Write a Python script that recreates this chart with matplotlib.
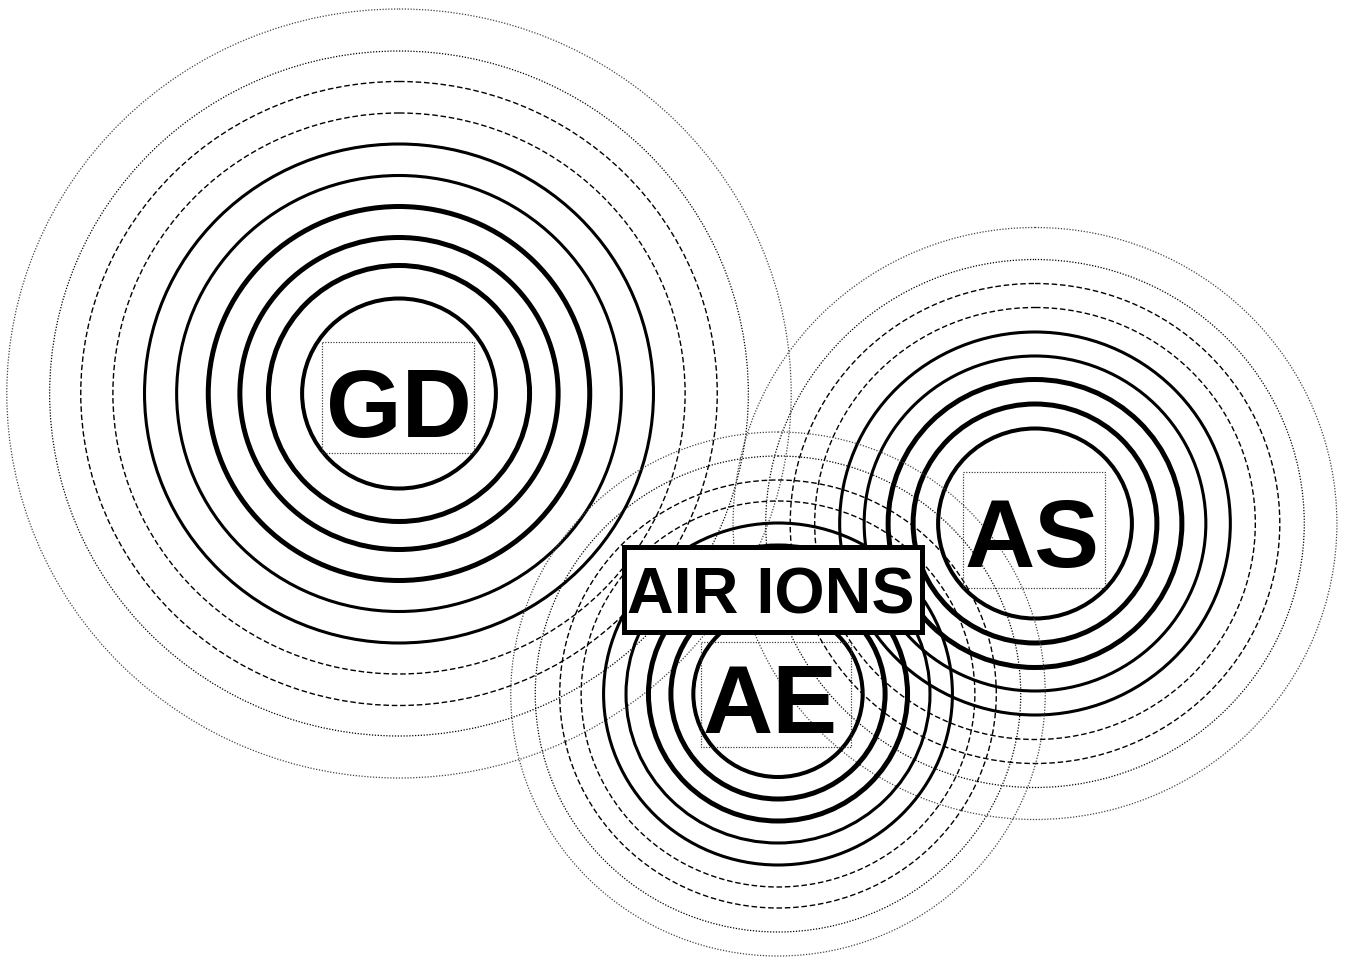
import matplotlib
matplotlib.use("Agg")
import matplotlib.pyplot as plt
from matplotlib.patches import Ellipse, Rectangle

# ring groups: centre (x, y) in pixels, vertical radii in pixels, inner to outer
gd_center = (399, 393.5)
gd_radii = [95, 128, 156, 187, 218, 249.5, 280.5, 312, 342.5, 384.5]
as_center = (1035, 523.5)
as_radii = [95, 119.5, 144, 167.5, 191.5, 216, 240, 264, 296]
ae_center = (778, 694)
ae_radii = [83, 105, 127, 149, 171, 193, 214, 238, 262]

labels = ["GD", "AS", "AE"]
label_pos = [(398.5, 437), (1032, 566.5), (770, 733)]   # text centre x, baseline y
label_box = [(398, 397.5), (1034, 530), (776, 694)]     # dotted frame centres
title_text = "AIR IONS"
title_pos = (771, 614)
title_box = (773, 589)

SX = 1.02  # rings are slightly wider than tall
box_sizes = [(152, 111), (142, 116), (150, 105)]
title_box_size = (298, 85)

# line styles, inner to outer
solid = lambda w: dict(color="black", lw=w, ls="-")
dashed = dict(color="black", lw=1.0, ls=(0, (4, 2)))
dotted = dict(color="black", lw=0.9, ls=(0, (1, 1.3)))
dotted_light = dict(color="#444444", lw=0.9, ls=(0, (1, 1.3)))
outer_styles = [dashed, dashed, dotted, dotted_light]
gd_styles = [solid(2.9), solid(3.6), solid(3.6), solid(3.6), solid(2.2), solid(2.2)] + outer_styles
small_styles = [solid(2.9), solid(3.6), solid(3.6), solid(2.2), solid(2.2)] + outer_styles

fig = plt.figure(figsize=(13.56, 9.59), dpi=100)
ax = fig.add_axes([0, 0, 1, 1])
ax.set_xlim(0, 1356)
ax.set_ylim(959, 0)
ax.axis("off")

groups = [(gd_center, gd_radii, gd_styles),
          (as_center, as_radii, small_styles),
          (ae_center, ae_radii, small_styles)]
for center, radii, styles in groups:
    for r, st in zip(radii, styles):
        ax.add_patch(Ellipse(center, 2 * r * SX, 2 * r, fill=False, **st))

for lab, (x, y), (bx, by), (w, h) in zip(labels, label_pos, label_box, box_sizes):
    ax.add_patch(Rectangle((bx - w / 2, by - h / 2), w, h, fill=False,
                           ec="#333333", lw=0.85, ls=(0, (1, 1.3))))
    ax.text(x, y, lab, ha="center", va="baseline", fontsize=70,
            fontweight="bold", family="Liberation Sans")

tw, th = title_box_size
ax.add_patch(Rectangle((title_box[0] - tw / 2, title_box[1] - th / 2), tw, th,
                       fc="white", ec="black", lw=3.6, zorder=9))
ax.text(title_pos[0], title_pos[1], title_text, ha="center", va="baseline",
        fontsize=46.5, fontweight="bold", family="Liberation Sans", zorder=10)

fig.savefig("out.png", dpi=100)
